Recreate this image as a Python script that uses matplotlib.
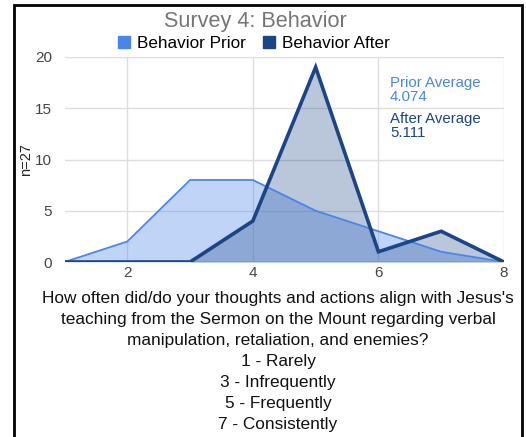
import matplotlib
matplotlib.use('Agg')
import matplotlib.pyplot as plt
from matplotlib.patches import Patch, Rectangle

plt.rcParams['font.family'] = ['Liberation Sans', 'DejaVu Sans']

# antworten 1..8, anzahl personen (n=27)
ratings = [1, 2, 3, 4, 5, 6, 7, 8]
prior = [0, 2, 8, 8, 5, 3, 1, 0]
after = [0, 0, 0, 4, 19, 1, 3, 0]
prior_avg = '4.074'
after_avg = '5.111'

c_prior = '#4a86e8'
c_after = '#1c4587'

W, H = 526, 437
fig = plt.figure(figsize=(W / 100, H / 100), dpi=100)
ax = fig.add_axes([64.5 / W, 1 - 262 / H, (504 - 64.5) / W, (262 - 57) / H])

ax.fill_between(ratings, prior, color=c_prior, alpha=0.35, lw=0, zorder=2)
ax.fill_between(ratings, after, color=c_after, alpha=0.3, lw=0, zorder=3)
ax.plot(ratings, prior, color=c_prior, lw=1.3, zorder=4)
ax.plot(ratings, after, color=c_after, lw=2.6, zorder=5, solid_joinstyle='miter')

ax.set_xlim(1, 8)
ax.set_ylim(0, 20)
ax.set_xticks([2, 4, 6, 8])
ax.set_yticks([0, 5, 10, 15, 20])
ax.grid(True, color='#dddddd', lw=1, zorder=0)
ax.axhline(0, color='#888888', lw=1, zorder=1)
for s in ax.spines.values():
    s.set_visible(False)
ax.tick_params(length=0, labelsize=11, labelcolor='#444444', pad=3)
ax.tick_params(axis='y', pad=9)
ax.set_ylabel('n=27', fontsize=10.5, color='#222222', labelpad=0)
ax.yaxis.set_label_coords(-31 / (504 - 64.5), (262 - 160) / (262 - 57))

# durchschnittswerte rechts oben
ax.text(390 / W, 1 - 76 / H, 'Prior Average\n' + prior_avg, transform=fig.transFigure,
        fontsize=10.8, color=c_prior, va='top', ha='left', linespacing=1.0)
ax.text(390 / W, 1 - 112 / H, 'After Average\n' + after_avg, transform=fig.transFigure,
        fontsize=10.8, color=c_after, va='top', ha='left', linespacing=1.0)

fig.text(255 / W, 1 - 21 / H, 'Survey 4: Behavior', ha='center', va='center',
         fontsize=15.6, color='#757575')

handles = [Patch(color=c_prior, label='Behavior Prior'),
           Patch(color=c_after, label='Behavior After')]
fig.legend(handles=handles, loc='center', bbox_to_anchor=(254 / W, 1 - 43 / H),
           ncol=2, frameon=False, fontsize=12.3, handlelength=0.7, handleheight=0.7,
           handletextpad=0.4, columnspacing=1.0, borderaxespad=0, borderpad=0)

question = ("How often did/do your thoughts and actions align with Jesus's\n"
            "teaching from the Sermon on the Mount regarding verbal\n"
            "manipulation, retaliation, and enemies?\n"
            "1 - Rarely\n3 - Infrequently\n5 - Frequently\n7 - Consistently")
fig.text(278 / W, 1 - 291 / H, question, ha='center', va='top', fontsize=12.4,
         color='#111111', linespacing=1.5)

fig.patches.append(Rectangle((14 / W, -0.05), (522 - 14) / W, 1.05 - 5 / H,
                             transform=fig.transFigure, fill=False, ec='black', lw=2))

fig.savefig('out.png', dpi=100)
